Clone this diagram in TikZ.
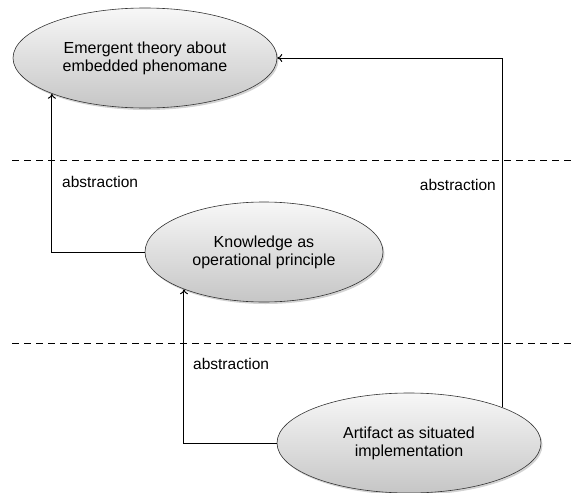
\documentclass[tikz,border=0pt]{standalone}
\usepackage{fontspec}
\setmainfont{Liberation Sans}
\usetikzlibrary{shapes.geometric,shadows,arrows.meta}
\begin{document}
\begin{tikzpicture}[x=1pt,y=-1pt,
  phase/.style={ellipse, draw=black!80, line width=0.6pt,
    minimum width=264pt, minimum height=100pt, inner sep=0pt,
    top color=gray!6, bottom color=gray!45, align=center,
    font=\fontsize{16}{18}\selectfont,
    drop shadow={shadow xshift=1.5pt, shadow yshift=-2pt, opacity=0.35}},
  link/.style={line width=1pt, -{To[length=5pt,width=8pt]}},
  sep/.style={dashed, dash pattern=on 7pt off 5pt, line width=1pt},
  lbl/.style={font=\fontsize{15.5}{18}\selectfont, inner sep=0pt}]
\useasboundingbox (0,0) rectangle (571,493);

% layer separators
\coordinate (s1a) at (12,160); \coordinate (s1b) at (571,160);
\coordinate (s2a) at (12,343); \coordinate (s2b) at (571,343);
\draw[sep] (s1a) -- (s1b);
\draw[sep] (s2a) -- (s2b);

% the three levels
\node[phase] (theory) at (145,58) {Emergent theory about\\embedded phenomane};
\node[phase, minimum width=238pt] (know) at (264,252) {Knowledge as\\operational principle};
\node[phase] (art) at (409,443) {Artifact as situated\\implementation};

% abstraction links
\draw[link] (know.west) -| (theory.201);
\draw[link] (art.west) -| (know.205.3);
\draw[link] (art.21.3) |- (theory.east);

\node[lbl, anchor=west] (l1) at (62,182) {abstraction};
\node[lbl, anchor=east] (l2) at (496,185) {abstraction};
\node[lbl, anchor=west] (l3) at (193,364) {abstraction};
\end{tikzpicture}
\end{document}
